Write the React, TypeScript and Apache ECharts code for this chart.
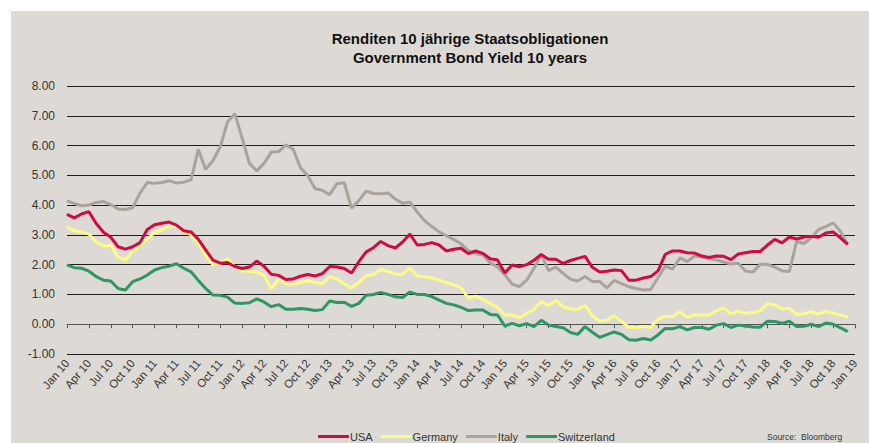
import React, { useEffect, useRef } from "react";
import * as echarts from "echarts";

const monthNames = ["Jan", "Feb", "Mar", "Apr", "May", "Jun", "Jul", "Aug", "Sep", "Oct", "Nov", "Dec"];
const years = ["10", "11", "12", "13", "14", "15", "16", "17", "18"];
const lastCategory = "Jan 19";

const categories: string[] = [];
years.forEach((y) => monthNames.forEach((m) => categories.push(m + " " + y)));
categories.push(lastCategory);

const usa = [
  3.69, 3.57, 3.70, 3.78, 3.38, 3.09, 2.92, 2.60, 2.52, 2.60,
  2.74, 3.18, 3.34, 3.39, 3.43, 3.33, 3.14, 3.10, 2.85, 2.50,
  2.15, 2.05, 2.07, 1.94, 1.87, 1.92, 2.12, 1.95, 1.68, 1.64,
  1.50, 1.52, 1.61, 1.67, 1.62, 1.70, 1.94, 1.92, 1.87, 1.72,
  2.10, 2.43, 2.57, 2.78, 2.64, 2.56, 2.76, 3.03, 2.66, 2.68,
  2.74, 2.66, 2.46, 2.52, 2.55, 2.37, 2.46, 2.38, 2.20, 2.16,
  1.72, 1.99, 1.93, 2.00, 2.15, 2.34, 2.18, 2.18, 2.04, 2.14,
  2.21, 2.28, 1.91, 1.75, 1.78, 1.82, 1.80, 1.48, 1.48, 1.55,
  1.60, 1.79, 2.35, 2.46, 2.46, 2.40, 2.39, 2.29, 2.24, 2.29,
  2.28, 2.17, 2.36, 2.40, 2.44, 2.44, 2.66, 2.85, 2.73, 2.93,
  2.86, 2.93, 2.95, 2.92, 3.06, 3.10, 2.90, 2.68,
];

const germany = [
  3.26, 3.14, 3.10, 3.03, 2.76, 2.63, 2.65, 2.25, 2.15, 2.44,
  2.64, 2.86, 3.08, 3.17, 3.29, 3.28, 3.10, 3.01, 2.72, 2.30,
  2.00, 2.03, 2.21, 1.92, 1.79, 1.78, 1.75, 1.65, 1.20, 1.50,
  1.35, 1.34, 1.40, 1.45, 1.41, 1.36, 1.60, 1.52, 1.35, 1.22,
  1.40, 1.62, 1.68, 1.84, 1.77, 1.68, 1.68, 1.89, 1.62, 1.59,
  1.56, 1.48, 1.40, 1.32, 1.23, 0.88, 0.94, 0.85, 0.70, 0.56,
  0.31, 0.31, 0.22, 0.37, 0.50, 0.76, 0.63, 0.80, 0.58, 0.52,
  0.50, 0.63, 0.29, 0.10, 0.13, 0.28, 0.10, -0.11, -0.10, -0.08,
  -0.10, 0.17, 0.27, 0.25, 0.42, 0.23, 0.31, 0.31, 0.31, 0.45,
  0.55, 0.35, 0.44, 0.37, 0.39, 0.45, 0.69, 0.65, 0.50, 0.54,
  0.33, 0.35, 0.42, 0.34, 0.43, 0.38, 0.31, 0.24,
];

const italy = [
  4.14, 4.06, 3.98, 4.00, 4.09, 4.12, 4.02, 3.87, 3.85, 3.91,
  4.40, 4.76, 4.73, 4.76, 4.82, 4.74, 4.77, 4.85, 5.87, 5.20,
  5.50, 5.95, 6.80, 7.07, 6.25, 5.40, 5.15, 5.40, 5.78, 5.80,
  6.02, 5.88, 5.25, 4.99, 4.55, 4.50, 4.35, 4.72, 4.75, 3.90,
  4.15, 4.47, 4.39, 4.38, 4.41, 4.20, 4.06, 4.10, 3.77, 3.48,
  3.28, 3.10, 2.97, 2.85, 2.70, 2.47, 2.37, 2.33, 2.06, 1.92,
  1.66, 1.35, 1.26, 1.48, 1.87, 2.35, 1.80, 1.92, 1.71, 1.51,
  1.45, 1.60, 1.43, 1.44, 1.22, 1.47, 1.36, 1.26, 1.20, 1.15,
  1.17, 1.56, 1.95, 1.85, 2.23, 2.10, 2.29, 2.26, 2.20, 2.16,
  2.09, 2.02, 2.05, 1.79, 1.75, 2.01, 2.01, 1.92, 1.79, 1.77,
  2.78, 2.71, 2.90, 3.18, 3.28, 3.40, 3.12, 2.68,
];

const switzerland = [
  1.99, 1.90, 1.88, 1.78, 1.60, 1.48, 1.45, 1.20, 1.15, 1.43,
  1.52, 1.65, 1.82, 1.90, 1.95, 2.03, 1.88, 1.76, 1.47, 1.20,
  0.98, 0.97, 0.91, 0.71, 0.70, 0.72, 0.85, 0.75, 0.59, 0.66,
  0.50, 0.50, 0.53, 0.50, 0.46, 0.49, 0.78, 0.73, 0.74, 0.60,
  0.70, 0.97, 1.00, 1.07, 1.00, 0.92, 0.90, 1.08, 1.00, 1.00,
  0.93, 0.81, 0.70, 0.65, 0.57, 0.46, 0.48, 0.48, 0.33, 0.31,
  -0.06, 0.03, -0.05, 0.02, -0.08, 0.13, -0.03, -0.08, -0.12, -0.28,
  -0.34, -0.08, -0.27, -0.44, -0.35, -0.26, -0.34, -0.52, -0.54, -0.48,
  -0.53, -0.36, -0.14, -0.15, -0.08, -0.19, -0.11, -0.11, -0.17, -0.03,
  0.02, -0.11, -0.03, -0.06, -0.09, -0.10, 0.10, 0.09, 0.03, 0.10,
  -0.08, -0.07, 0.00, -0.08, 0.04, 0.00, -0.12, -0.25,
];

const seriesNames = ["USA", "Germany", "Italy", "Switzerland"];
const titleLines = ["Renditen 10 jährige Staatsobligationen", "Government Bond Yield 10 years"];
const sourceText = "Source:  Bloomberg";

const FONT = "'Liberation Sans', Arial, sans-serif";
const colors = {
  USA: "#d20a42",
  Germany: "#fbfb88",
  Italy: "#aaa39b",
  Switzerland: "#2f9563",
};

export default function App() {
  const ref = useRef<HTMLDivElement>(null);

  useEffect(() => {
    if (!ref.current) return;
    const chart = echarts.init(ref.current, null, { renderer: "svg" });
    const mk = (name: string, data: number[], z: number) => ({
      name,
      type: "line",
      data,
      symbol: "none",
      smooth: false,
      z,
      lineStyle: { width: 3, color: (colors as any)[name] },
      itemStyle: { color: (colors as any)[name] },
      emphasis: { disabled: true },
    });
    chart.setOption({
      animation: false,
      backgroundColor: "#ffffff",
      textStyle: { fontFamily: FONT },
      graphic: [
        {
          type: "rect",
          z: -10,
          silent: true,
          shape: { x: 11, y: 11, width: 858, height: 432 },
          style: { fill: "#dddad6" },
        },
        {
          type: "text",
          x: 470,
          y: 38,
          style: {
            text: titleLines[0],
            align: "center",
            verticalAlign: "middle",
            font: "bold 15px " + FONT,
            fill: "#111111",
          },
        },
        {
          type: "text",
          x: 470,
          y: 57,
          style: {
            text: titleLines[1],
            align: "center",
            verticalAlign: "middle",
            font: "bold 15px " + FONT,
            fill: "#111111",
          },
        },
        {
          type: "text",
          x: 767,
          y: 437,
          style: {
            text: sourceText,
            align: "left",
            verticalAlign: "middle",
            font: "8.5px " + FONT,
            fill: "#333333",
          },
        },
      ],
      legend: {
        data: seriesNames,
        left: 313,
        top: 426,
        itemWidth: 31,
        itemHeight: 3,
        itemGap: 8,
        icon: "roundRect",
        textStyle: { fontSize: 11, color: "#333333", fontFamily: FONT, padding: [0, 0, 0, -4] },
        selectedMode: false,
      },
      grid: { left: 67, right: 14, top: 86, bottom: 89, containLabel: false },
      xAxis: {
        type: "category",
        data: categories,
        boundaryGap: false,
        axisLine: { show: true, lineStyle: { color: "#555555", width: 1 } },
        axisTick: { show: true, interval: 2, length: 4, lineStyle: { color: "#555555" } },
        axisLabel: {
          interval: 2,
          rotate: 50,
          fontSize: 11.5,
          color: "#333333",
          fontFamily: FONT,
          margin: 7,
        },
        splitLine: { show: false },
      },
      yAxis: {
        type: "value",
        min: -1,
        max: 8,
        interval: 1,
        axisLine: { show: false },
        axisTick: { show: false },
        axisLabel: {
          formatter: (v: number) => v.toFixed(2),
          fontSize: 12,
          color: "#333333",
          fontFamily: FONT,
          margin: 12,
        },
        splitLine: { show: true, lineStyle: { color: "#1e1e1e", width: 1 } },
      },
      series: [
        mk("Italy", italy, 2),
        mk("Switzerland", switzerland, 3),
        mk("Germany", germany, 4),
        mk("USA", usa, 5),
      ],
    });
    return () => chart.dispose();
  }, []);

  return (
    <div style={{ position: "absolute", left: 0, top: 0, width: 869, height: 443, background: "#ffffff" }}>
      <div ref={ref} style={{ width: 869, height: 443 }} />
    </div>
  );
}
